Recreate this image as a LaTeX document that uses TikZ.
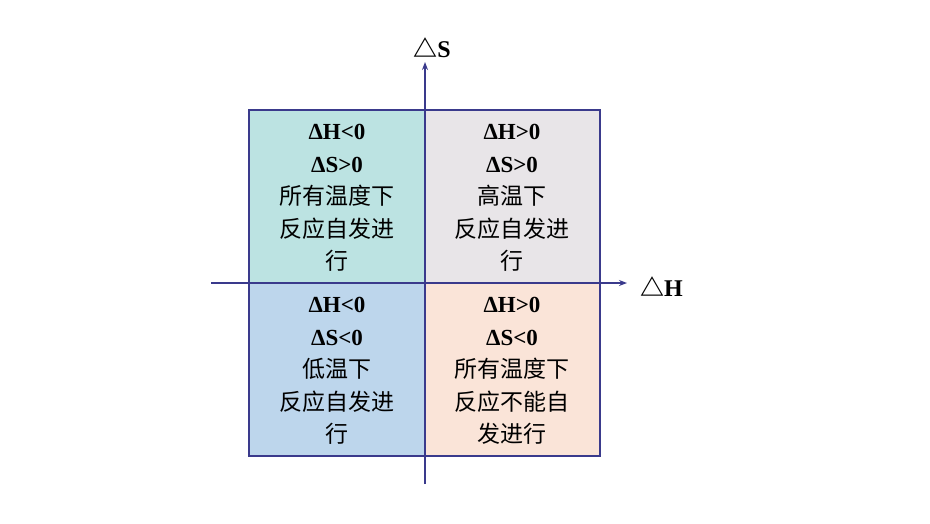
\documentclass[tikz,border=0pt]{standalone}
\usepackage{fontspec}
\setmainfont{Liberation Serif}
\newfontfamily\cjk{Noto Sans CJK SC}
\usetikzlibrary{arrows.meta}
\definecolor{axis}{HTML}{3A3A8C}
\definecolor{cA}{HTML}{BCE3E2}
\definecolor{cB}{HTML}{E8E5E8}
\definecolor{cC}{HTML}{BDD6EC}
\definecolor{cD}{HTML}{FAE4D8}
\tikzset{
 quad/.style={draw=axis,line width=1.6pt},
 txt/.style={align=center,font=\fontsize{23}{32.5}\selectfont,inner sep=0pt},
 ax/.style={draw=axis,line width=1.6pt,-{Stealth[length=8pt,width=6pt]}},
 lbl/.style={font=\fontsize{24}{28}\selectfont\bfseries,inner sep=0pt}
}
\newcommand{\ch}[1]{\textbf{#1}}
\begin{document}
\begin{tikzpicture}[x=1pt,y=-1pt]
\useasboundingbox (0,0) rectangle (930,523);
\fill[white] (0,0) rectangle (930,523);
\filldraw[quad,fill=cA] (249,110) rectangle (425,283);
\filldraw[quad,fill=cB] (425,110) rectangle (600,283);
\filldraw[quad,fill=cC] (249,283) rectangle (425,456);
\filldraw[quad,fill=cD] (425,283) rectangle (600,456);
\node[txt] (ta) at (337,198) {\ch{ΔH<0}\\\ch{ΔS>0}\\{\cjk 所有温度下}\\{\cjk 反应自发进}\\{\cjk 行}};
\node[txt] (tb) at (512,198) {\ch{ΔH>0}\\\ch{ΔS>0}\\{\cjk 高温下}\\{\cjk 反应自发进}\\{\cjk 行}};
\node[txt] (tc) at (337,371) {\ch{ΔH<0}\\\ch{ΔS<0}\\{\cjk 低温下}\\{\cjk 反应自发进}\\{\cjk 行}};
\node[txt] (td) at (512,371) {\ch{ΔH>0}\\\ch{ΔS<0}\\{\cjk 所有温度下}\\{\cjk 反应不能自}\\{\cjk 发进行}};
\coordinate (xs) at (211,283);
\coordinate (xe) at (627,283);
\coordinate (ys) at (425,484);
\coordinate (ye) at (425,62);
\draw[ax] (xs) -- (xe);
\draw[ax] (ys) -- (ye);
\node[lbl,anchor=west] (lh) at (640,287) {\cjk △\textrm{H}};
\node[lbl] (ls) at (432,48) {\cjk △\textrm{S}};
\end{tikzpicture}
\end{document}
